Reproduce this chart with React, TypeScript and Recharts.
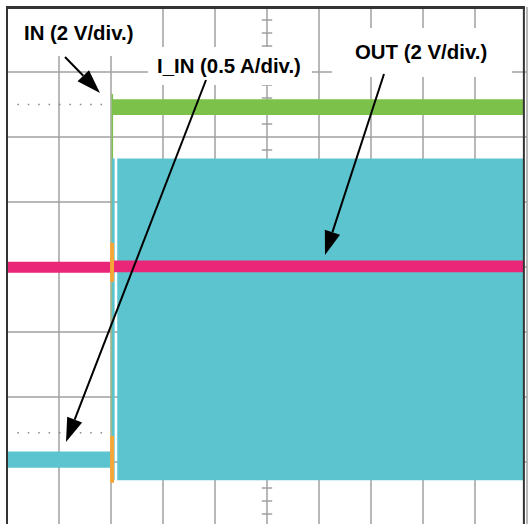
import { Area, ComposedChart, ReferenceLine, XAxis, YAxis } from "recharts"

// scope screen, in divisions: 10 across (time), 8 high (-4..4)
const gridX = [1, 2, 3, 4, 5, 6, 7, 8, 9, 10]
const gridY = [-3, -2, -1, 0, 1, 2, 3]

// IN (2 V/div.) - green
const inT = [2.01, 2.04, 2.04, 9.94]
const inLo = [-2.9, -2.9, 2.34, 2.34]
const inHi = [2.66, 2.66, 2.58, 2.58]

// OUT (2 V/div.) - pink
const outT = [0, 2.02, 2.02, 9.94]
const outLo = [-0.09, -0.09, -0.08, -0.08]
const outHi = [0.08, 0.08, 0.1, 0.1]

// I_IN (0.5 A/div.) - cyan, before switching starts
const iinPreT = [0, 2.02, 2.02, 2.07]
const iinPreLo = [-3.09, -3.09, -3.28, -3.28]
const iinPreHi = [-2.84, -2.84, 1.67, 1.67]

// I_IN after switching starts
const iinOnT = [2.12, 9.94]
const iinOnLo = [-3.28, -3.28]
const iinOnHi = [1.67, 1.67]

// ground / level markers
const markerT = 2.02
const outMarker = [0.37, -0.23]
const iinMarker = [-2.6, -3.32]
const dotLevels = [2.5, -2.55]

const centerTicks = Array.from({ length: 39 }, (_, i) => -3.8 + i * 0.2).filter(
  (v) => Math.abs(v - Math.round(v)) > 0.01
)

const band = (t: number[], lo: number[], hi: number[]) =>
  t.map((x, i) => ({ t: x, v: [lo[i], hi[i]] }))

const inData = band(inT, inLo, inHi)
const outData = band(outT, outLo, outHi)
const iinPreData = band(iinPreT, iinPreLo, iinPreHi)
const iinOnData = band(iinOnT, iinOnLo, iinOnHi)

const GREEN = "#7cc24a"
const CYAN = "#5cc4cf"
const PINK = "#ea2679"
const ORANGE = "#f7a738"
const GRID = "#a0a0a0"
const BORDER = "#333"

const font = {
  fontFamily: "'Liberation Sans', Arial, sans-serif",
  fontWeight: 700,
  fontSize: 20.4,
}

function Arrow({ x1, y1, x2, y2 }: { x1: number; y1: number; x2: number; y2: number }) {
  const len = Math.hypot(x2 - x1, y2 - y1)
  const ux = (x2 - x1) / len
  const uy = (y2 - y1) / len
  const hl = 24
  const hw = 8
  const bx = x2 - ux * hl
  const by = y2 - uy * hl
  const pts = `${x2},${y2} ${bx - uy * hw},${by + ux * hw} ${bx + uy * hw},${by - ux * hw}`
  return (
    <g>
      <line x1={x1} y1={y1} x2={bx} y2={by} stroke="#000" strokeWidth={2} />
      <polygon points={pts} fill="#000" />
    </g>
  )
}

export default function App() {
  return (
    <div
      style={{
        position: "fixed",
        left: 0,
        top: 0,
        width: 531,
        height: 524,
        overflow: "hidden",
        background: "#fff",
      }}
    >
      <ComposedChart width={531} height={528} margin={{ top: 7, right: 4, bottom: 1, left: 7 }}>
        <XAxis type="number" dataKey="t" domain={[0, 10]} allowDataOverflow hide />
        <YAxis type="number" domain={[-4, 4]} allowDataOverflow hide />
        {gridX.map((v) => (
          <ReferenceLine key={`gx-${v}`} x={v} stroke={GRID} strokeWidth={1.5} ifOverflow="visible" zIndex={-60} />
        ))}
        {gridY.map((v) => (
          <ReferenceLine key={`gy-${v}`} y={v} stroke={GRID} strokeWidth={1.5} zIndex={-60} />
        ))}
        {centerTicks.map((v) => (
          <ReferenceLine
            key={`ct-${v}`}
            segment={[
              { x: 4.9, y: v },
              { x: 5.1, y: v },
            ]}
            stroke={GRID}
            strokeWidth={1.5}
            zIndex={-50}
          />
        ))}
        {dotLevels.map((v) => (
          <ReferenceLine
            key={`dl-${v}`}
            segment={[
              { x: 0.2, y: v },
              { x: 1.95, y: v },
            ]}
            stroke="#888"
            strokeWidth={1.5}
            strokeDasharray="1.5 8.9"
            zIndex={-50}
          />
        ))}
        <Area data={inData} dataKey="v" type="linear" stroke="none" fill={GREEN} fillOpacity={1} isAnimationActive={false} />
        <Area data={iinPreData} dataKey="v" type="linear" stroke="none" fill={CYAN} fillOpacity={1} isAnimationActive={false} />
        <Area data={iinOnData} dataKey="v" type="linear" stroke="none" fill={CYAN} fillOpacity={1} isAnimationActive={false} />
        <Area data={outData} dataKey="v" type="linear" stroke="none" fill={PINK} fillOpacity={1} isAnimationActive={false} />
        <ReferenceLine
          segment={[
            { x: markerT, y: outMarker[0] },
            { x: markerT, y: outMarker[1] },
          ]}
          stroke={ORANGE}
          strokeWidth={4}
          zIndex={600}
        />
        <ReferenceLine
          segment={[
            { x: markerT, y: iinMarker[0] },
            { x: markerT, y: iinMarker[1] },
          ]}
          stroke={ORANGE}
          strokeWidth={4}
          zIndex={600}
        />
        <ReferenceLine x={0} stroke={BORDER} strokeWidth={2} ifOverflow="visible" zIndex={600} />
        <ReferenceLine x={9.94} stroke={BORDER} strokeWidth={2} ifOverflow="visible" zIndex={600} />
      </ComposedChart>
      <svg
        width={531}
        height={524}
        style={{ position: "absolute", left: 0, top: 0, pointerEvents: "none" }}
      >
        <rect x={6} y={6} width={519} height={3} fill={BORDER} />
        <rect x={14} y={9} width={134} height={47} fill="#fff" />
        <rect x={148} y={47} width={164} height={38} fill="#fff" />
        <rect x={332} y={28} width={180} height={49} fill="#fff" />
        <text x={24} y={40} style={font}>IN (2 V/div.)</text>
        <text x={157} y={73} style={font}>I_IN (0.5 A/div.)</text>
        <text x={355} y={59} style={font}>OUT (2 V/div.)</text>
        <Arrow x1={65} y1={57} x2={100} y2={93} />
        <Arrow x1={206} y1={80} x2={66} y2={442} />
        <Arrow x1={384} y1={74} x2={325} y2={255} />
      </svg>
    </div>
  )
}
